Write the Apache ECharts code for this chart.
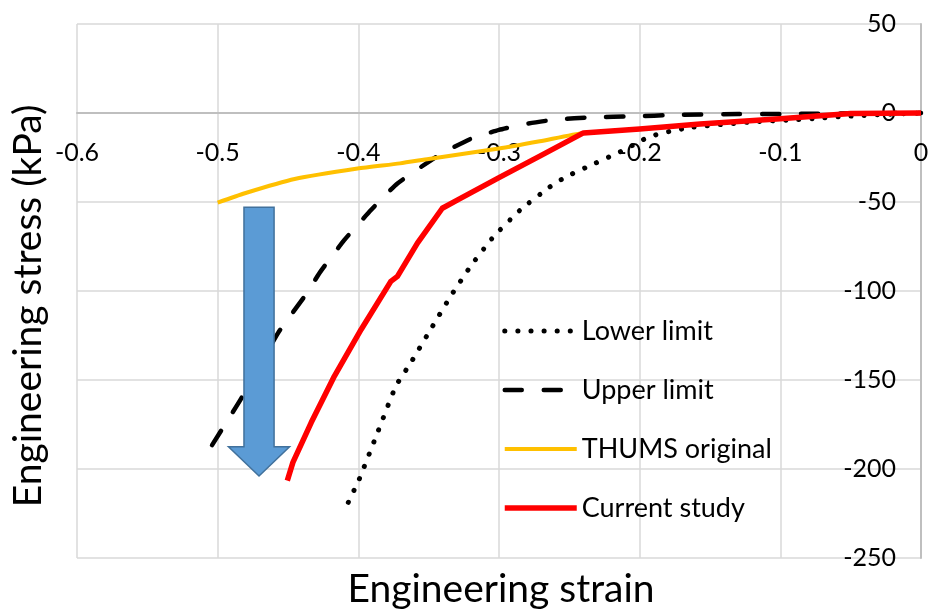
<!DOCTYPE html>
<html>
<head>
<meta charset="utf-8">
<script src="https://cdn.jsdelivr.net/npm/echarts@6/dist/echarts.min.js"></script>
<style>
  html, body { margin: 0; padding: 0; background: #fff; }
  #chart { width: 935px; height: 611px; }
</style>
</head>
<body>
<div id="chart"></div>
<script>
// ---- Data (strain, stress in kPa) ----
const seriesNames = ['Lower limit', 'Upper limit', 'THUMS original', 'Current study'];

const lowerLimit = [
  [-0.4071, -218.7], [-0.3993, -205.6], [-0.3863, -179.5], [-0.3733, -153.4],
  [-0.3627, -140.3], [-0.3486, -121.6], [-0.3344, -103.0], [-0.3203, -86.2],
  [-0.3038, -69.4], [-0.2849, -54.5], [-0.2637, -41.4], [-0.2530, -36.1],
  [-0.2365, -30.0], [-0.2199, -24.0], [-0.2116, -21.0], [-0.2030, -17.3],
  [-0.1950, -14.0], [-0.1867, -11.8], [-0.1784, -10.3], [-0.1700, -9.0],
  [-0.1620, -7.9], [-0.1200, -5.0], [-0.0880, -3.7], [-0.0700, -2.8],
  [-0.0550, -1.9], [-0.0440, -1.5], [-0.0300, -0.9], [0, 0]
];

const upperLimit = [
  [-0.5040, -186.6], [-0.4830, -160.0], [-0.4570, -123.5], [-0.4382, -103.0],
  [-0.4268, -89.0], [-0.4099, -71.3], [-0.3910, -54.5], [-0.3722, -39.6],
  [-0.3420, -23.3], [-0.3200, -14.5], [-0.3000, -9.5], [-0.2800, -6.0],
  [-0.2600, -3.7], [-0.2330, -2.4], [-0.2045, -1.9], [-0.1750, -1.1],
  [-0.1300, -0.6], [-0.0900, -0.5], [-0.0500, -0.2], [0, 0]
];

const thumsOriginal = [
  [-0.5000, -50.4], [-0.4807, -45.1], [-0.4453, -37.1], [-0.4005, -31.2],
  [-0.3704, -28.3], [-0.3500, -25.8], [-0.3000, -20.0], [-0.2710, -15.9],
  [-0.2400, -11.2], [-0.2000, -9.0], [-0.1570, -6.2], [-0.1000, -3.2],
  [-0.0500, -0.3], [0, 0]
];

const currentStudy = [
  [-0.4505, -206.5], [-0.4465, -196.3], [-0.4335, -173.9], [-0.4170, -147.8],
  [-0.3980, -121.6], [-0.3769, -94.6], [-0.3722, -91.8], [-0.3580, -73.1],
  [-0.3403, -53.5], [-0.3297, -48.9], [-0.3000, -36.3], [-0.2700, -23.8],
  [-0.2400, -11.2], [-0.2000, -9.0], [-0.1570, -6.2], [-0.1000, -3.2],
  [-0.0500, -0.3], [0, 0]
];

// Axis ticks
const xTicks = [-0.6, -0.5, -0.4, -0.3, -0.2, -0.1, 0];
const yTicks = [50, 0, -50, -100, -150, -200, -250];

// Arrow annotation (data coordinates)
const arrowX = -0.4706, arrowTop = -53.0, arrowHeadBase = -187.5, arrowTip = -203.9;
const arrowShaftHalf = 0.0107, arrowHeadHalf = 0.0217;

const FONT = 'Lato';

const styles = {
  'Lower limit':    { color: '#000000', width: 5,   type: [0.1, 13], cap: 'round' },
  'Upper limit':    { color: '#000000', width: 4.5, type: [17, 22],  cap: 'round' },
  'THUMS original': { color: '#FFC000', width: 4,   type: 'solid',   cap: 'butt' },
  'Current study':  { color: '#FF0000', width: 5.5, type: 'solid',   cap: 'butt' }
};

const chart = echarts.init(document.getElementById('chart'), null, { renderer: 'canvas' });

const GRID = { left: 77, right: 14, top: 24, bottom: 53 };
const plotH = 611 - GRID.top - GRID.bottom;
// x axis sits at stress = 0
const zeroOffset = -plotH * (0 - yTicks[yTicks.length - 1]) / (yTicks[0] - yTicks[yTicks.length - 1]);

function mkSeries(name, data, z, smooth) {
  const s = styles[name];
  return {
    name, type: 'line', data, symbol: 'none', showSymbol: false, z, smooth: smooth || false,
    lineStyle: { color: s.color, width: s.width, type: s.type, cap: s.cap, join: 'round' },
    itemStyle: { color: s.color }
  };
}

const option = {
  animation: false,
  backgroundColor: '#ffffff',
  textStyle: { fontFamily: FONT },
  grid: Object.assign({ containLabel: false }, GRID),
  xAxis: {
    type: 'value', position: 'bottom', offset: zeroOffset,
    min: xTicks[0], max: xTicks[xTicks.length - 1], interval: 0.1,
    axisLine: { onZero: false, lineStyle: { color: '#bfbfbf', width: 2 } },
    axisTick: { show: false },
    axisLabel: {
      margin: 27, fontSize: 25, color: '#000', fontFamily: FONT,
      formatter: v => (Math.abs(v) < 1e-9 ? '0' : v.toFixed(1))
    },
    splitLine: { show: true, lineStyle: { color: '#d9d9d9', width: 1.5 } }
  },
  yAxis: {
    type: 'value', position: 'right',
    min: yTicks[yTicks.length - 1], max: yTicks[0], interval: 50,
    axisLine: { show: true, onZero: false, lineStyle: { color: '#bfbfbf', width: 2 } },
    axisTick: { show: false },
    axisLabel: { inside: true, margin: 25, fontSize: 25, color: '#000', fontFamily: FONT },
    splitLine: { show: true, lineStyle: { color: '#d9d9d9', width: 1.5 } }
  },
  legend: {
    orient: 'vertical', left: 497, top: 311,
    itemWidth: 72, itemHeight: 14, itemGap: 29,
    itemStyle: { opacity: 0 },
    lineStyle: { width: 'inherit', type: 'inherit', cap: 'inherit' },
    data: seriesNames.map(n => ({
      name: n,
      itemStyle: { opacity: 0 },
      lineStyle: { color: styles[n].color, width: styles[n].width, type: styles[n].type, cap: n.indexOf('limit') >= 0 ? 'round' : 'butt' }
    })),
    textStyle: { fontSize: 27, color: '#000', fontFamily: FONT, lineHeight: 30 }
  },
  series: [
    mkSeries(seriesNames[0], lowerLimit, 2, 0.15),
    mkSeries(seriesNames[1], upperLimit, 2, 0.15),
    mkSeries(seriesNames[2], thumsOriginal, 3, 0.2),
    mkSeries(seriesNames[3], currentStudy, 4, false)
  ]
};

chart.setOption(option);

function px(x, y) { return chart.convertToPixel({ gridIndex: 0 }, [x, y]); }

const pTL = px(arrowX - arrowShaftHalf, arrowTop);
const pTR = px(arrowX + arrowShaftHalf, arrowTop);
const pBR = px(arrowX + arrowShaftHalf, arrowHeadBase);
const pHR = px(arrowX + arrowHeadHalf, arrowHeadBase);
const pTip = px(arrowX, arrowTip);
const pHL = px(arrowX - arrowHeadHalf, arrowHeadBase);
const pBL = px(arrowX - arrowShaftHalf, arrowHeadBase);

chart.setOption({
  graphic: [
    {
      type: 'polygon', z: 100,
      shape: { points: [pTL, pTR, pBR, pHR, pTip, pHL, pBL] },
      style: { fill: '#5B9BD5', stroke: '#41719C', lineWidth: 1.5 }
    },
    {
      type: 'text', z: 100, x: 501, y: 589,
      style: {
        text: 'Engineering strain', fontSize: 39, fontFamily: FONT, fill: '#000',
        textAlign: 'center', textVerticalAlign: 'middle'
      }
    },
    {
      type: 'text', z: 100, x: 28, y: 306, rotation: Math.PI / 2,
      style: {
        text: 'Engineering stress (kPa)', fontSize: 39, fontFamily: FONT, fill: '#000',
        textAlign: 'center', textVerticalAlign: 'middle'
      }
    }
  ]
});
</script>
</body>
</html>
